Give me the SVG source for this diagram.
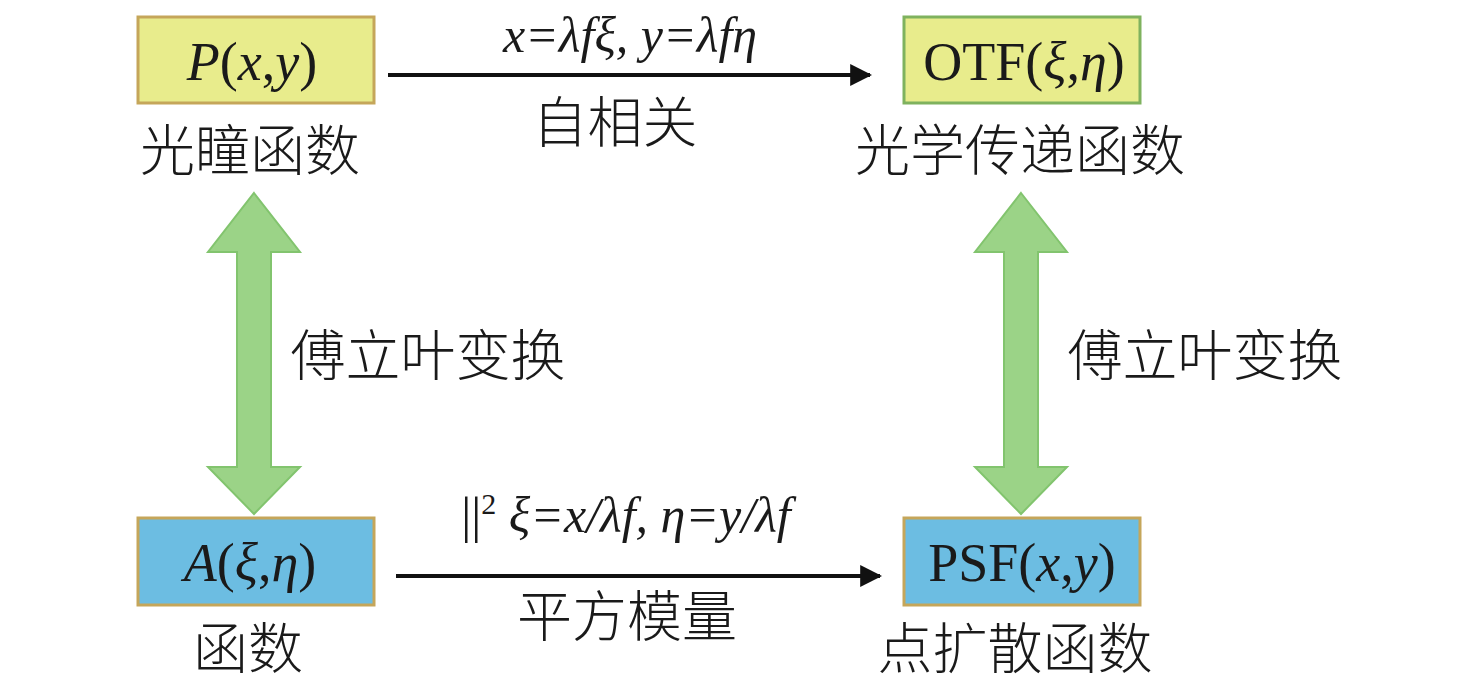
<svg xmlns="http://www.w3.org/2000/svg" width="1476" height="686" viewBox="0 0 1476 686">
<defs>
<style>
.yel{fill:#e8ec8c;stroke-width:3}
.blu{fill:#6cbde2;stroke:#c5a65a;stroke-width:3}
.m{font-family:"Liberation Serif",serif;font-size:54px;fill:#1a1a1a;text-anchor:middle}
.lab{font-family:"Liberation Serif",serif;font-size:50px;fill:#1a1a1a;text-anchor:middle;font-style:italic}
.cn{font-family:"Noto Sans CJK SC",sans-serif;font-size:55px;fill:#1a1a1a;text-anchor:middle;font-weight:300}
.ga{fill:#9bd387;stroke:#82c46e;stroke-width:2}
.line{stroke:#111;stroke-width:4;fill:none}
</style>
<marker id="ah" viewBox="0 0 10 10" refX="9" refY="5" markerWidth="5.5" markerHeight="5.5" orient="auto" markerUnits="strokeWidth">
<path d="M0,0 L10,5 L0,10 Z" fill="#111"/>
</marker>
</defs>
<g id="connectors">
<line class="line" x1="388" y1="75" x2="870" y2="75" marker-end="url(#ah)"/>
<line class="line" x1="396" y1="576" x2="880" y2="576" marker-end="url(#ah)"/>
<path class="ga" d="M254,193 L300,252 L271,252 L271,467 L300,467 L254,514 L208,467 L237,467 L237,252 L208,252 Z"/>
<path class="ga" d="M1021,193 L1067,252 L1038,252 L1038,467 L1067,467 L1021,514 L975,467 L1004,467 L1004,252 L975,252 Z"/>
<text class="lab" x="630" y="52">x=λfξ, y=λfη</text>
<text class="cn" x="615" y="142">自相关</text>
<text class="lab" x="626" y="532"><tspan font-style="normal">||</tspan><tspan font-style="normal" font-size="30" dy="-18">2</tspan><tspan dy="18"> ξ=x/λf, η=y/λf</tspan></text>
<text class="cn" x="627" y="636">平方模量</text>
<text class="cn" x="428" y="375">傅立叶变换</text>
<text class="cn" x="1205" y="375">傅立叶变换</text>
</g>
<g id="node-p">
<rect class="yel" x="138" y="17" width="236" height="86" stroke="#c5a65a"/>
<text class="m" x="252" y="80"><tspan font-style="italic">P</tspan>(<tspan font-style="italic">x</tspan>,<tspan font-style="italic">y</tspan>)</text>
<text class="cn" x="250" y="170">光瞳函数</text>
</g>
<g id="node-otf">
<rect class="yel" x="904" y="17" width="236" height="86" stroke="#7fb25e"/>
<text class="m" x="1024" y="80">OTF(<tspan font-style="italic">ξ</tspan>,<tspan font-style="italic">η</tspan>)</text>
<text class="cn" x="1020" y="170">光学传递函数</text>
</g>
<g id="node-a">
<rect class="blu" x="138" y="518" width="236" height="87"/>
<text class="m" x="250" y="581"><tspan font-style="italic">A</tspan>(<tspan font-style="italic">ξ</tspan>,<tspan font-style="italic">η</tspan>)</text>
<text class="cn" x="248" y="668">函数</text>
</g>
<g id="node-psf">
<rect class="blu" x="904" y="518" width="236" height="87"/>
<text class="m" x="1022" y="581">PSF(<tspan font-style="italic">x</tspan>,<tspan font-style="italic">y</tspan>)</text>
<text class="cn" x="1015" y="668">点扩散函数</text>
</g>
</svg>
